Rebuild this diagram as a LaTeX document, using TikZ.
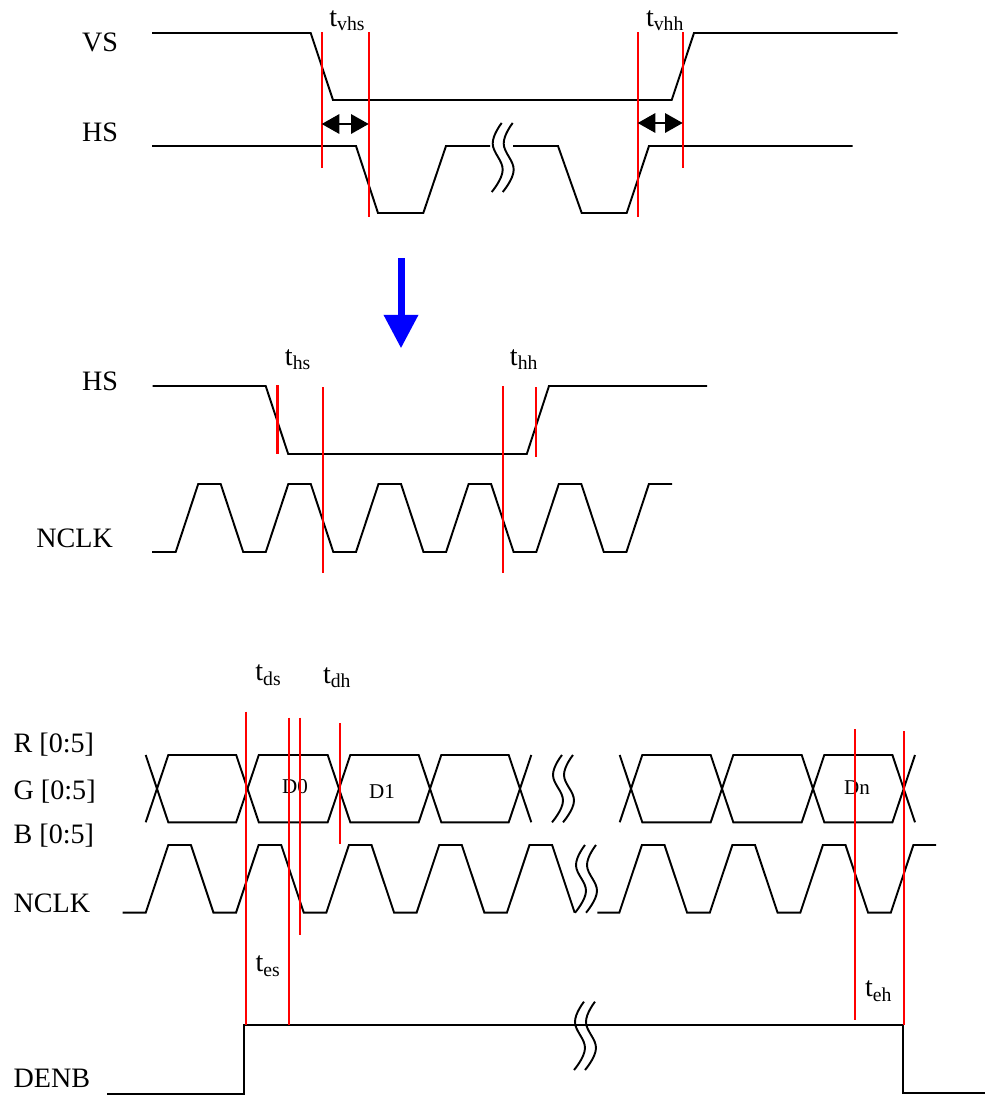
\documentclass[tikz,border=0pt]{standalone}
\usepackage{fontspec}
\setmainfont{Liberation Serif}
\usetikzlibrary{arrows.meta}

\newcommand{\tlab}[1]{t\textsubscript{#1}}
\newcommand{\brkwave}[3]{%
  \pgfmathsetmacro{\wh}{#3-#2}%
  \draw[sig] plot[smooth,tension=0.7] coordinates {(#1+10,#2) (#1+1,#2+0.3*\wh) (#1+11,#2+0.68*\wh) (#1,#3)};
  \draw[sig] plot[smooth,tension=0.7] coordinates {(#1+21,#2) (#1+12,#2+0.3*\wh) (#1+22,#2+0.68*\wh) (#1+11,#3)};}

\begin{document}
\begin{tikzpicture}[x=0.02cm,y=-0.02cm,
  sig/.style={black,line width=1.1pt,line join=miter},
  tmark/.style={red,line width=1.2pt},
  lbl/.style={font=\fontsize{16}{19}\selectfont,inner sep=0pt,anchor=base west},
  dlbl/.style={font=\fontsize{12}{14}\selectfont,inner sep=0pt},
  dimarr/.style={black,line width=1.1pt,{Triangle[length=10pt,width=11pt]}-{Triangle[length=10pt,width=11pt]}},
  bluearr/.style={blue,line width=0.14cm,-{Triangle[length=0.67cm,width=0.66cm]}}]
\useasboundingbox (0,0) rectangle (985,1096);

\node[lbl] (lblVS) at (81.7,51.7) {VS};
\node[lbl] (lblHS) at (81.7,141.7) {HS};
\draw[sig] (152,33) -- (310.7,33) -- (333,100) -- (671.7,100) -- (694,33) -- (897.7,33);
\draw[sig] (152,146) -- (356,146) -- (378,213) -- (423.3,213) -- (446,146) -- (490,146);
\draw[sig] (513,146) -- (558,146) -- (581.7,213) -- (626.7,213) -- (649,146) -- (852.7,146);
\brkwave{491.7}{123}{192}
\draw[tmark] (321.7,32) -- (321.7,168);
\draw[tmark] (368.7,32) -- (368.7,217);
\draw[tmark] (637.7,32) -- (637.7,217);
\draw[tmark] (682.7,32) -- (682.7,168);
\coordinate (vhsL) at (321.7,124);
\coordinate (vhsR) at (368.7,124);
\coordinate (vhhL) at (637.7,123);
\coordinate (vhhR) at (682.7,123);
\draw[dimarr] (vhsL) -- (vhsR);
\draw[dimarr] (vhhL) -- (vhhR);
\node[lbl] (tvhs) at (329,26) {\tlab{vhs}};
\node[lbl] (tvhh) at (645.7,26) {\tlab{vhh}};

\coordinate (arrTop) at (401,258);
\coordinate (arrTip) at (401,348.3);
\draw[bluearr] (arrTop) -- (arrTip);

\node[lbl] (lblHSb) at (81.7,390) {HS};
\node[lbl] (lblNCLKa) at (36,547.3) {NCLK};
\draw[sig] (152.5,386) -- (265.7,386) -- (288.2,454) -- (526.8,454) -- (549,386) -- (707,386);
\draw[sig] (152,552) foreach \r in {175.7,265.8,356,446.1,536.3} {-- (\r,552) -- (\r+22.5,484) -- (\r+45,484) -- (\r+67.5,552)} -- (626.4,552) -- (648.9,484) -- (672,484);
\draw[tmark] (277.5,385) -- (277.5,454);
\draw[tmark] (322.9,387) -- (322.9,573);
\draw[tmark] (503.2,386) -- (503.2,573);
\draw[tmark] (535.7,387) -- (535.7,456.7);
\node[lbl] (ths) at (284.6,365) {\tlab{hs}};
\node[lbl] (thh) at (509.6,365) {\tlab{hh}};

\node[lbl] (lblR) at (13.3,752) {R [0:5]};
\node[lbl] (lblG) at (13.3,799) {G [0:5]};
\node[lbl] (lblB) at (13.3,843) {B [0:5]};
\node[lbl] (lblNCLKb) at (13.3,912) {NCLK};
\node[lbl] (lblDENB) at (13.3,1087.7) {DENB};

\foreach \c/\d in {157/247.5,247.5/339,339/430,430/520,631/722,722/813,813/903.7}
  \draw[sig] (\c,788.7) -- (\c+11.3,755) -- (\d-11.3,755) -- (\d,788.7) -- (\d-11.3,822.3) -- (\c+11.3,822.3) -- cycle;
\foreach \c/\s in {157/-1,520/1,631/-1,903.7/1}
  \draw[sig] (\c+\s*11.3,755) -- (\c,788.7) -- (\c+\s*11.3,822.3);
\brkwave{552}{755}{822.3}
\node[dlbl] (D0) at (295,787) {D0};
\node[dlbl] (D1) at (382,792) {D1};
\node[dlbl] (Dn) at (857,788) {Dn};

\draw[sig] (122.7,912.7) foreach \r in {145.7,236,326.3,416.6,506.9} {-- (\r,912.7) -- (\r+22.6,845) -- (\r+45.2,845) -- (\r+67.8,912.7)};
\draw[sig] (597.3,912.7) foreach \r in {619.3,709.8,800.3} {-- (\r,912.7) -- (\r+22.6,845) -- (\r+45.2,845) -- (\r+67.8,912.7)} -- (890.8,912.7) -- (913.4,845) -- (936,845);
\brkwave{575}{845}{912.7}

\draw[sig] (107,1094) -- (244,1094) -- (244,1025) -- (903,1025) -- (903,1093) -- (985,1093);
\brkwave{574}{1001.7}{1070}

\draw[tmark] (245.7,711.7) -- (245.7,1025);
\draw[tmark] (289,717.7) -- (289,1025);
\draw[tmark] (300.3,717.7) -- (300.3,935);
\draw[tmark] (340,723.3) -- (340,844);
\draw[tmark] (855.3,729) -- (855.3,1020);
\draw[tmark] (903.7,731) -- (903.7,1025);
\node[lbl] (tds) at (255,680.7) {\tlab{ds}};
\node[lbl] (tdh) at (322.7,683) {\tlab{dh}};
\node[lbl] (tes) at (255.2,971.7) {\tlab{es}};
\node[lbl] (teh) at (864.7,996.7) {\tlab{eh}};
\end{tikzpicture}
\end{document}
